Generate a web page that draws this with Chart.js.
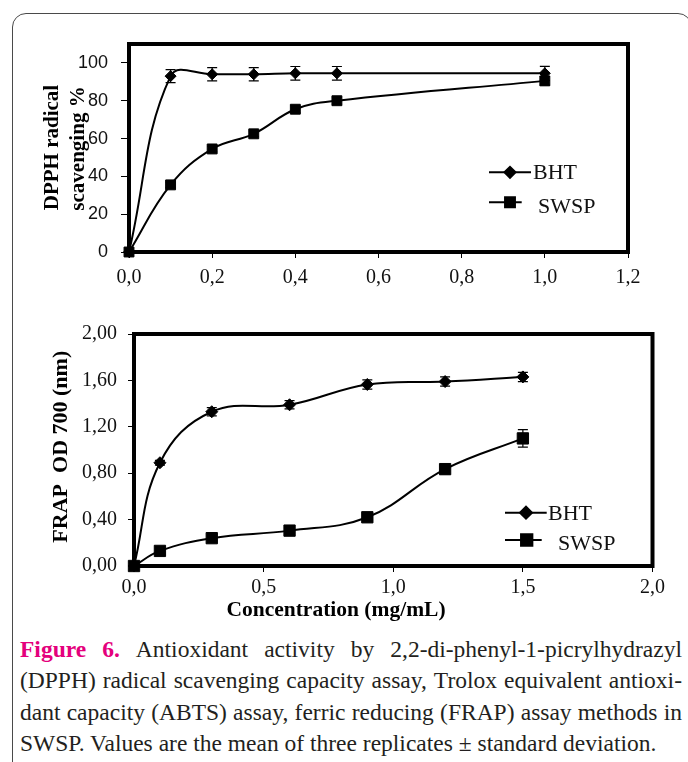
<!DOCTYPE html>
<html>
<head>
<meta charset="utf-8">
<script src="https://cdn.jsdelivr.net/npm/chart.js@4.4.0/dist/chart.umd.min.js"></script>
<style>
  html, body { margin: 0; padding: 0; background: #fff; }
  body { width: 688px; height: 762px; position: relative; overflow: hidden; }
  .frame { position: absolute; left: 12px; top: 13px; width: 680px; height: 800px;
           border: 1.5px solid #4a4a4a; border-radius: 14px; box-sizing: border-box; }
  #dpph { position: absolute; left: 0; top: 0; }
  #frap { position: absolute; left: 0; top: 300px; }
  .caption { position: absolute; left: 20px; top: 634px; width: 662px;
             font-family: "Liberation Serif", serif; font-size: 23.5px; line-height: 31.3px; color: #231f20; }
  .caption .line { display: flex; justify-content: space-between; white-space: nowrap; }
  .caption .fig { color: #e4007c; font-weight: bold; }
</style>
</head>
<body>
<div class="frame"></div>
<canvas id="dpph" width="688" height="300" style="width:688px;height:300px"></canvas>
<canvas id="frap" width="688" height="330" style="width:688px;height:330px"></canvas>
<div class="caption" id="caption"></div>
<script>
'use strict';

// DPPH panel
const dpphConc = [0, 0.1, 0.2, 0.3, 0.4, 0.5, 1.0];
const dpphBht = [0, 93, 94, 94, 94.5, 94.5, 94.5];
const dpphBhtSd = [0, 3.4, 3.5, 3.5, 3.6, 3.6, 3.7];
const dpphSwsp = [0, 35.5, 54.5, 62.5, 75.5, 80, 90.5];
const dpphSwspSd = [0, 1.5, 1.5, 1.5, 1.8, 1.8, 2.3];
const dpphXTicks = [0, 0.2, 0.4, 0.6, 0.8, 1.0, 1.2];
const dpphYTicks = [0, 20, 40, 60, 80, 100];

// FRAP panel
const frapConc = [0, 0.1, 0.3, 0.6, 0.9, 1.2, 1.5];
const frapBht = [0, 0.89, 1.33, 1.39, 1.565, 1.59, 1.63];
const frapBhtSd = [0, 0.02, 0.035, 0.035, 0.04, 0.04, 0.04];
const frapSwsp = [0, 0.13, 0.24, 0.305, 0.42, 0.835, 1.10];
const frapSwspSd = [0, 0.02, 0.025, 0.02, 0.03, 0.04, 0.075];
const frapXTicks = [0, 0.5, 1.0, 1.5, 2.0];
const frapYTicks = [0, 0.4, 0.8, 1.2, 1.6, 2.0];

const seriesNames = ['BHT', 'SWSP'];

const SERIF = '"Liberation Serif", "Times New Roman", serif';
const SANS = '"Liberation Sans", Arial, sans-serif';

/* error bars drawn from each dataset's sd array */
const errorBars = {
  id: 'errorBars',
  afterDatasetsDraw(chart) {
    const ctx = chart.ctx;
    const y = chart.scales.y;
    chart.data.datasets.forEach((ds, i) => {
      const meta = chart.getDatasetMeta(i);
      ctx.save();
      ctx.strokeStyle = '#000';
      ctx.lineWidth = 1.2;
      meta.data.forEach((pt, j) => {
        const e = ds.sd[j];
        if (!e) return;
        const top = y.getPixelForValue(ds.vals[j] + e);
        const bot = y.getPixelForValue(ds.vals[j] - e);
        ctx.beginPath();
        ctx.moveTo(pt.x, top); ctx.lineTo(pt.x, bot);
        ctx.moveTo(pt.x - 5, top); ctx.lineTo(pt.x + 5, top);
        ctx.moveTo(pt.x - 5, bot); ctx.lineTo(pt.x + 5, bot);
        ctx.stroke();
      });
      ctx.restore();
    });
  }
};

/* thick plot-area box */
const plotBox = {
  id: 'plotBox',
  beforeDatasetsDraw(chart) {
    const a = chart.chartArea, ctx = chart.ctx;
    ctx.save();
    ctx.strokeStyle = '#000';
    ctx.lineWidth = 4;
    ctx.strokeRect(a.left, a.top, a.right - a.left, a.bottom - a.top);
    ctx.restore();
  }
};

/* axis titles and in-plot legend */
const decor = {
  id: 'decor',
  afterDraw(chart, args, opts) {
    const ctx = chart.ctx;
    ctx.save();
    ctx.fillStyle = '#000';
    (opts.titles || []).forEach(t => {
      ctx.save();
      ctx.font = t.font;
      ctx.textAlign = 'center';
      ctx.textBaseline = 'middle';
      ctx.translate(t.x, t.y);
      if (t.rotate) ctx.rotate(-Math.PI / 2);
      ctx.fillText(t.text, 0, 0);
      ctx.restore();
    });
    (opts.legend || []).forEach((l, i) => {
      const ds = chart.data.datasets[i];
      ctx.strokeStyle = '#000';
      ctx.lineWidth = 2;
      ctx.beginPath();
      ctx.moveTo(l.x0, l.y); ctx.lineTo(l.x1, l.y);
      ctx.stroke();
      Chart.helpers.drawPoint(ctx, {
        pointStyle: ds.pointStyle, radius: ds.pointRadius, rotation: 0, borderWidth: 1
      }, l.mx, l.y);
      ctx.fill();
      ctx.font = l.font;
      ctx.textAlign = 'left';
      ctx.textBaseline = 'alphabetic';
      ctx.fillStyle = '#111';
      ctx.fillText(ds.label, l.tx, l.ty);
      ctx.fillStyle = '#000';
    });
    ctx.restore();
  }
};

function makeSet(label, xs, ys, sd, style, radius) {
  return {
    label: label,
    data: xs.map((x, i) => ({ x: x, y: ys[i] })),
    vals: ys,
    sd: sd,
    borderColor: '#000',
    borderWidth: 2,
    backgroundColor: '#000',
    pointStyle: style,
    pointRadius: radius,
    pointBackgroundColor: '#000',
    pointBorderColor: '#000',
    pointBorderWidth: 1,
    tension: 0.4,
    clip: false
  };
}

function makeChart(canvasId, cfg) {
  return new Chart(document.getElementById(canvasId), {
    type: 'line',
    data: { datasets: cfg.datasets },
    plugins: [plotBox, errorBars, decor],
    options: {
      responsive: false,
      devicePixelRatio: 1,
      animation: false,
      layout: { padding: { left: 0, top: cfg.top, right: cfg.right, bottom: 0 } },
      plugins: {
        legend: { display: false },
        tooltip: { enabled: false },
        decor: { titles: cfg.titles, legend: cfg.legend }
      },
      scales: {
        x: {
          type: 'linear',
          min: cfg.xTicks[0],
          max: cfg.xTicks[cfg.xTicks.length - 1],
          afterBuildTicks: s => { s.ticks = cfg.xTicks.map(v => ({ value: v })); },
          afterFit: s => { s.height = cfg.xHeight; },
          border: { display: false },
          grid: { drawOnChartArea: false, drawTicks: true, tickLength: 6, color: '#000', lineWidth: 1 },
          ticks: {
            color: '#111',
            padding: cfg.xPad,
            maxRotation: 0,
            font: { family: SERIF, size: 20, lineHeight: 1 },
            callback: v => v.toFixed(1).replace('.', ',')
          }
        },
        y: {
          min: 0,
          max: cfg.yMax,
          afterBuildTicks: s => { s.ticks = cfg.yTicks.map(v => ({ value: v })); },
          afterFit: s => { s.width = cfg.yWidth; },
          border: { display: false },
          grid: { drawOnChartArea: false, drawTicks: true, tickLength: cfg.yTickLen, color: '#000', lineWidth: 1 },
          ticks: {
            color: '#111',
            padding: cfg.yPad,
            font: cfg.yFont,
            callback: v => v.toFixed(cfg.yDigits).replace('.', ',')
          }
        }
      }
    }
  });
}

makeChart('dpph', {
  datasets: [
    makeSet(seriesNames[0], dpphConc, dpphBht, dpphBhtSd, 'rectRot', 5.5),
    makeSet(seriesNames[1], dpphConc, dpphSwsp, dpphSwspSd, 'rect', 7)
  ],
  top: 44, right: 60, xHeight: 48, yWidth: 129,
  xTicks: dpphXTicks, yTicks: dpphYTicks, yMax: 110, yDigits: 0,
  xPad: 10, yPad: 13, yTickLen: 8,
  yFont: { family: SANS, size: 18 },
  titles: [
    { text: 'DPPH radical', x: 53, y: 147.5, rotate: true, font: 'bold 21px ' + SERIF },
    { text: 'scavenging %', x: 79, y: 148.5, rotate: true, font: 'bold 21px ' + SERIF }
  ],
  legend: [
    { x0: 489, x1: 531, mx: 510, y: 172.3, tx: 533, ty: 179.3, font: '22px ' + SERIF },
    { x0: 489, x1: 521.7, mx: 510, y: 202.3, tx: 538, ty: 213.3, font: '22px ' + SERIF }
  ]
});

makeChart('frap', {
  datasets: [
    makeSet(seriesNames[0], frapConc, frapBht, frapBhtSd, 'rectRot', 6),
    makeSet(seriesNames[1], frapConc, frapSwsp, frapSwspSd, 'rect', 8)
  ],
  top: 34, right: 35.5, xHeight: 64, yWidth: 134,
  xTicks: frapXTicks, yTicks: frapYTicks, yMax: 2, yDigits: 2,
  xPad: 5.5, yPad: 11, yTickLen: 6,
  yFont: { family: SERIF, size: 20 },
  titles: [
    { text: 'FRAP  OD 700 (nm)', x: 61.7, y: 146.7, rotate: true, font: 'bold 22px ' + SERIF },
    { text: 'Concentration (mg/mL)', x: 336, y: 310, rotate: false, font: 'bold 21.5px ' + SERIF }
  ],
  legend: [
    { x0: 505, x1: 546.7, mx: 526, y: 212.7, tx: 548, ty: 220, font: '22px ' + SERIF },
    { x0: 505, x1: 541.7, mx: 526.7, y: 240, tx: 558, ty: 250, font: '22px ' + SERIF }
  ]
});

/* caption, justified line by line */
const captionLines = [
  'Antioxidant activity by 2,2-di-phenyl-1-picrylhydrazyl',
  '(DPPH) radical scavenging capacity assay, Trolox equivalent antioxi-',
  'dant capacity (ABTS) assay, ferric reducing (FRAP) assay methods in'
];
const captionLast = 'SWSP. Values are the mean of three replicates \u00b1 standard deviation.';
const cap = document.getElementById('caption');
captionLines.forEach((text, i) => {
  const line = document.createElement('div');
  line.className = 'line';
  if (i === 0) {
    ['Figure', '6.'].forEach(w => {
      const s = document.createElement('span');
      s.className = 'fig';
      s.textContent = w;
      line.appendChild(s);
    });
  }
  text.split(' ').forEach(w => {
    const s = document.createElement('span');
    s.textContent = w;
    line.appendChild(s);
  });
  cap.appendChild(line);
});
const last = document.createElement('div');
last.textContent = captionLast;
cap.appendChild(last);
</script>
</body>
</html>
